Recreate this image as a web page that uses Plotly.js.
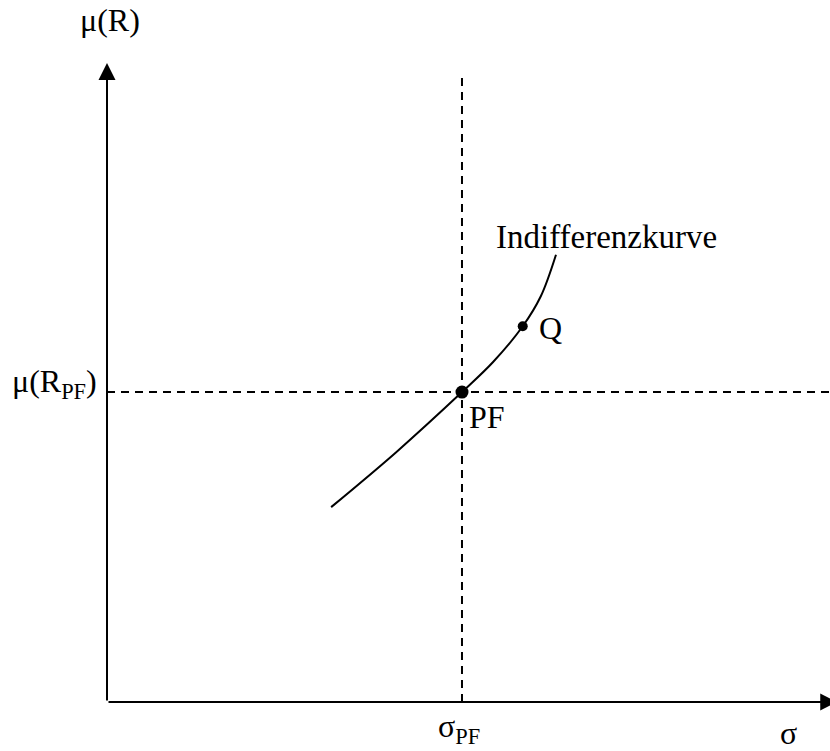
<!DOCTYPE html>
<html>
<head>
<meta charset="utf-8">
<script src="https://cdn.plot.ly/plotly-3.0.1.min.js"></script>
<style>html,body{margin:0;padding:0;background:#fff;}#chart{width:830px;height:751px;}</style>
</head>
<body>
<div id="chart"></div>
<script>
// Indifference curve (sigma, mu) in abstract diagram units
const curveSigma = [31.0, 40.0, 49.1, 53.4, 57.5, 60.0, 62.1];
const curveMu    = [30.5, 39.1, 48.5, 53.2, 58.8, 63.5, 70.0];
// Points
const pointNames = ["PF", "Q"];
const pointSigma = [49.1, 57.5];
const pointMu    = [48.5, 58.8];
const pointSizes = [13, 10];
// Axis limits
const sigmaMax = 100, muMax = 100;
const sigmaPF = pointSigma[0], muPF = pointMu[0];
const dashTop = 98.1;

const FONT = "Liberation Serif, DejaVu Serif, serif";
const FS = 32;

const traces = [
  {x: [sigmaPF, sigmaPF], y: [0, dashTop], mode: "lines", line: {color: "#000", width: 2, dash: "8px,6px"}, hoverinfo: "skip"},
  {x: [0, sigmaMax], y: [muPF, muPF], mode: "lines", line: {color: "#000", width: 2, dash: "8px,6px"}, hoverinfo: "skip"},
  {x: curveSigma, y: curveMu, mode: "lines", line: {color: "#000", width: 2, shape: "spline", smoothing: 1}, hoverinfo: "skip"},
  {x: pointSigma, y: pointMu, mode: "markers", opacity: 1, marker: {color: "#000", size: pointSizes, opacity: 1, line: {width: 0}}, hoverinfo: "skip"}
];

// labels placed relative to the plot area (paper units: 0..1 across the axes)
const ann = (text, x, y, xa, ya, ref, fs) => ({text, x, y, xref: ref || "x", yref: ref ? "paper" : "y", xanchor: xa, yanchor: ya, showarrow: false, borderpad: 0, font: {family: FONT, size: fs || FS, color: "#000"}});

const layout = {
  width: 830, height: 751,
  margin: {l: 107, r: 0, t: 63, b: 49},
  paper_bgcolor: "#fff", plot_bgcolor: "#fff",
  showlegend: false,
  xaxis: {range: [0, sigmaMax], visible: false, fixedrange: true},
  yaxis: {range: [0, muMax], visible: false, fixedrange: true},
  annotations: [
    {x: 0, y: muMax, ax: 0, ay: 0, xref: "x", yref: "y", axref: "x", ayref: "y", text: "", showarrow: true, arrowhead: 2, arrowsize: 1.7, arrowwidth: 2, arrowcolor: "#000"},
    {x: sigmaMax + 1, y: 0, ax: 0, ay: 0, xref: "x", yref: "y", axref: "x", ayref: "y", text: "", showarrow: true, arrowhead: 2, arrowsize: 1.7, arrowwidth: 2, arrowcolor: "#000"},
    ann("μ(R)", 0.004, 1.067, "center", "middle", "paper"),
    ann("μ(R<sub>PF</sub>)", -0.013, 0.499, "right", "middle", "paper"),
    ann("σ<sub>PF</sub>", 0.487, -0.041, "center", "middle", "paper"),
    ann("σ", 0.942, -0.049, "center", "middle", "paper"),
    ann("Indifferenzkurve", 53.6, 72.8, "left", "middle", null, 33),
    ann(pointNames[1], 61.3, 58.5, "center", "middle"),
    ann(pointNames[0], 49.9, 44.6, "left", "middle")
  ]
};

Plotly.newPlot("chart", traces, layout, {staticPlot: true, displayModeBar: false});
</script>
</body>
</html>
